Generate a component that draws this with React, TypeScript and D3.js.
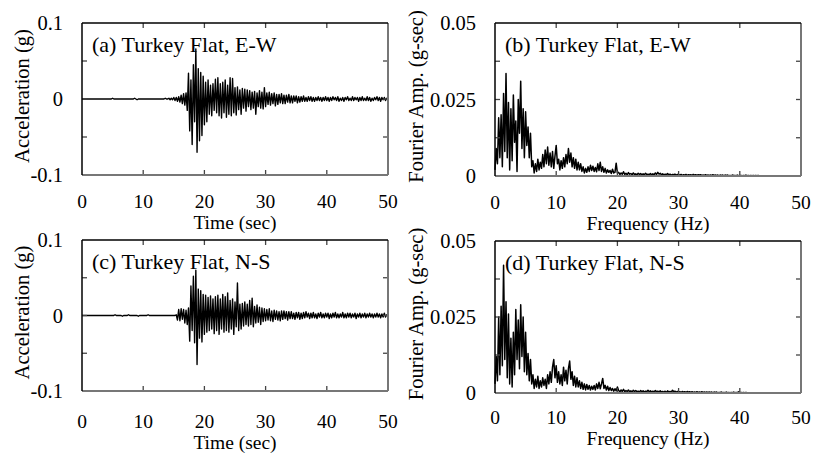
import React from 'react';
import * as d3 from 'd3';

const W = 813;
const H = 453;
const FONT = '"Liberation Serif", "Times New Roman", serif';

// acceleration time histories, milli-g, one value every 0.2 s from 0 to 50 s
const ACC_DT = 0.2;
const accEW = [
  0, 0, 0, 0, 0, 0, 0, 0, 0, 0,
  0, 0, 0, 0, 0, 0, 0, 0, 0, 0,
  0, 0, 0, 0, 0, 1, 0, 0, 0, 0,
  0, 0, 0, 0, 0, 0, 0, 0, 0, 0,
  0, 0, 0, 1, 0, -1, 0, 0, 0, 0,
  0, 0, 0, 0, 0, 0, 0, 0, 0, 0,
  0, 0, 0, 0, 0, 0, 0, 0, 1, 0,
  0, 1, -1, 1, -1, 2, -2, 2, -3, 3,
  -4, 5, -6, 7, -8, 8, -15, 34, -42, 25,
  -60, 45, -30, 66, -70, 40, -55, 35, -48, 30,
  -34, 22, -30, 25, -20, 18, -22, 20, -15, 26,
  -18, 28, -22, 20, -25, 22, -18, 25, -24, 18,
  -20, 28, -22, 27, -18, 15, -21, 16, -14, 12,
  -20, 14, -12, 13, -16, 12, -10, 11, -14, 9,
  -12, 10, -20, 8, -10, 11, -12, 9, -13, 15,
  -10, 8, -7, 9, -8, 7, -6, 8, -9, 6,
  -7, 6, -5, 7, -6, 5, -6, 5, -4, 6,
  -5, 4, -5, 4, -3, 4, -5, 3, -4, 3,
  -3, 4, -3, 2, -3, 3, -2, 3, -3, 2,
  -3, 2, -2, 3, -2, 2, -3, 2, -2, 3,
  -2, 2, -3, 2, -2, 3, -1, 2, -2, 3,
  -3, 1, -2, 2, -3, 2, -1, 3, -2, 1,
  -2, 3, -2, 2, -1, 2, -3, 2, -2, 3,
  -2, 1, -2, 3, -2, 2, -3, 1, -2, 2,
  -1, 3, -2, 2, -3, 2, -1, 2, -2, 1,
  0,
];
const accNS = [
  0, 0, 0, 0, 0, 0, 0, 0, 0, 0,
  0, 0, 0, 0, 0, 0, 0, 0, 0, 0,
  0, 0, 0, 0, 0, 0, 0, 1, 0, 0,
  0, 0, 0, -1, 0, 0, 0, 0, 1, 0,
  0, 0, 0, 0, 0, 0, -1, 0, 0, 0,
  0, 0, 0, 0, 1, 0, 0, 0, 0, 0,
  0, 0, 0, 0, 0, 0, 0, 0, 0, 0,
  0, 0, 0, 0, 0, 0, 0, 1, -6, 8,
  -7, 9, -5, 8, -10, 7, -12, 10, -34, 39,
  -20, 52, -36, 60, -65, 35, -30, 33, -35, 28,
  -25, 27, -22, 24, -20, 26, -18, 22, -24, 25,
  -20, 27, -25, 22, -18, 28, -22, 25, -20, 30,
  -22, 20, -18, 22, -25, 18, -15, 43, -20, 15,
  -18, 16, -14, 18, -12, 15, -14, 20, -12, 23,
  -15, 12, -10, 14, -9, 11, -12, 10, -8, 9,
  -7, 8, -6, 9, -7, 6, -8, 7, -5, 6,
  -6, 5, -7, 6, -5, 6, -4, 5, -6, 5,
  -4, 5, -4, 3, -5, 4, -3, 4, -5, 3,
  -4, 4, -3, 5, -2, 3, -4, 3, -3, 4,
  -3, 2, -4, 3, -2, 4, -3, 2, -3, 3,
  -2, 3, -4, 2, -3, 3, -2, 4, -3, 2,
  -3, 2, -2, 4, -3, 2, -3, 3, -2, 3,
  -3, 2, -2, 3, -4, 2, -2, 3, -3, 2,
  -2, 3, -3, 2, -2, 3, -2, 2, -3, 2,
  -2, 3, -2, 2, -3, 2, -2, 3, -2, 1,
  0,
];

// Fourier amplitude spectra, 1e-4 g-sec, one value every 0.2 Hz from 0 to 50 Hz
const FAS_DF = 0.2;
const fasEW = [
  20, 90, 40, 190, 60, 200, 30, 270, 80, 335,
  60, 240, 20, 220, 50, 265, 110, 180, 15, 250,
  140, 310, 90, 220, 60, 210, 100, 160, 60, 140,
  30, 50, 10, 40, 15, 55, 20, 45, 25, 70,
  30, 85, 40, 95, 35, 75, 30, 80, 25, 65,
  100, 40, 55, 20, 50, 25, 60, 30, 70, 40,
  90, 45, 75, 30, 60, 25, 55, 20, 45, 20,
  40, 15, 30, 10, 25, 12, 30, 15, 35, 18,
  32, 15, 28, 14, 40, 18, 45, 15, 30, 12,
  25, 10, 20, 12, 18, 8, 22, 10, 12, 42,
  10, 12, 5, 10, 6, 14, 5, 9, 4, 11,
  6, 8, 4, 10, 5, 7, 4, 9, 5, 8,
  3, 7, 4, 9, 5, 6, 4, 8, 3, 7,
  4, 10, 5, 12, 6, 9, 4, 7, 3, 6,
  4, 8, 3, 6, 3, 5, 4, 6, 3, 5,
  4, 3, 5, 2, 4, 3, 5, 2, 4, 3,
  4, 2, 5, 3, 4, 2, 4, 3, 4, 2,
  3, 2, 4, 2, 3, 2, 3, 2, 4, 2,
  3, 2, 3, 1, 3, 2, 3, 1, 3, 2,
  3, 1, 2, 1, 3, 2, 2, 1, 3, 1,
  2, 2, 1, 2, 1, 3, 1, 2, 1, 2,
  1, 2, 1, 2, 1, 2, 1, 1, 0, 1,
  0, 1, 0, 0, 0, 0, 0, 0, 0, 0,
  0, 0, 0, 0, 0, 0, 0, 0, 0, 0,
  0, 0, 0, 0, 0, 0, 0, 0, 0, 0,
  0,
];
const fasNS = [
  30, 120, 40, 250, 60, 285, 90, 420, 110, 300,
  50, 260, 30, 180, 20, 200, 60, 275, 110, 240,
  80, 290, 120, 250, 70, 200, 60, 130, 40, 110,
  30, 60, 15, 45, 20, 55, 15, 40, 20, 50,
  25, 45, 15, 60, 30, 70, 35, 85, 110, 50,
  90, 35, 70, 30, 60, 25, 85, 40, 75, 30,
  80, 105, 45, 70, 25, 55, 20, 50, 20, 40,
  15, 35, 12, 30, 10, 28, 12, 25, 10, 22,
  12, 25, 10, 30, 15, 35, 14, 30, 48, 15,
  25, 10, 22, 8, 18, 8, 15, 6, 14, 7,
  20, 8, 4, 10, 5, 12, 4, 8, 5, 10,
  4, 7, 3, 9, 5, 8, 4, 6, 3, 8,
  4, 7, 3, 6, 4, 9, 4, 7, 3, 6,
  3, 8, 4, 6, 3, 7, 3, 5, 3, 6,
  2, 7, 3, 5, 3, 9, 4, 6, 3, 5,
  3, 4, 2, 5, 3, 4, 2, 5, 3, 4,
  2, 4, 2, 3, 2, 4, 2, 3, 2, 4,
  2, 3, 2, 3, 2, 3, 2, 3, 1, 3,
  2, 3, 1, 2, 2, 3, 1, 2, 1, 3,
  1, 2, 1, 2, 1, 3, 1, 2, 1, 4,
  1, 2, 1, 2, 1, 2, 1, 1, 0, 1,
  0, 0, 0, 0, 0, 0, 0, 0, 0, 0,
  0, 0, 0, 0, 0, 0, 0, 0, 0, 0,
  0, 0, 0, 0, 0, 0, 0, 0, 0, 0,
  0, 0, 0, 0, 0, 0, 0, 0, 0, 0,
  0,
];

const xTicks = [0, 10, 20, 30, 40, 50];
const accTicks = [-0.1, 0, 0.1];
const accTickLabels = ['-0.1', '0', '0.1'];
const accInner = [-0.05, 0, 0.05];
const fasTicks = [0, 0.025, 0.05];
const fasTickLabels = ['0', '0.025', '0.05'];
const fasInner = [0.0125, 0.025, 0.0375];

const panels = [
  {
    key: 'a', box: { l: 82, r: 388, t: 23, b: 175 }, values: accEW, step: ACC_DT, unit: 0.001,
    yDomain: [-0.1, 0.1], yTicks: accTicks, yLabels: accTickLabels, yInner: accInner,
    title: '(a) Turkey Flat, E-W', xTitle: 'Time (sec)', yTitle: 'Acceleration (g)',
    xLabDy: 33, xTitleDy: 54, yTitleX: 22, lw: 1.4,
  },
  {
    key: 'b', box: { l: 495, r: 801, t: 23, b: 176 }, values: fasEW, step: FAS_DF, unit: 0.0001,
    yDomain: [0, 0.05], yTicks: fasTicks, yLabels: fasTickLabels, yInner: fasInner,
    title: '(b) Turkey Flat, E-W', xTitle: 'Frequency (Hz)', yTitle: 'Fourier Amp. (g-sec)',
    xLabDy: 33, xTitleDy: 54, yTitleX: 416, lw: 1.5,
  },
  {
    key: 'c', box: { l: 82, r: 388, t: 240, b: 391 }, values: accNS, step: ACC_DT, unit: 0.001,
    yDomain: [-0.1, 0.1], yTicks: accTicks, yLabels: accTickLabels, yInner: accInner,
    title: '(c) Turkey Flat, N-S', xTitle: 'Time (sec)', yTitle: 'Acceleration (g)',
    xLabDy: 37, xTitleDy: 58, yTitleX: 22, lw: 1.4,
  },
  {
    key: 'd', box: { l: 495, r: 801, t: 241, b: 393 }, values: fasNS, step: FAS_DF, unit: 0.0001,
    yDomain: [0, 0.05], yTicks: fasTicks, yLabels: fasTickLabels, yInner: fasInner,
    title: '(d) Turkey Flat, N-S', xTitle: 'Frequency (Hz)', yTitle: 'Fourier Amp. (g-sec)',
    xLabDy: 31, xTitleDy: 52, yTitleX: 416, lw: 1.5,
  },
];

function Panel({ p }: { p: any }) {
  const { box } = p;
  const x = d3.scaleLinear().domain([0, 50]).range([box.l, box.r]);
  const y = d3.scaleLinear().domain(p.yDomain).range([box.b, box.t]);
  const line = d3.line<number>()
    .x((_, i) => x(i * p.step))
    .y(d => y(d * p.unit));
  const tk = 5;
  const inner = xTicks.slice(1, -1);

  return (
    <g>
      <text x={box.l + 10} y={box.t + 29} fontSize={22} fontFamily={FONT}>{p.title}</text>
      <path d={line(p.values) || ''} fill="none" stroke="#000" strokeWidth={p.lw} strokeLinejoin="round" />

      {/* ticks */}
      {inner.map(v => (
        <g key={'x' + v} stroke="#444" strokeWidth={1.3}>
          <line x1={x(v)} x2={x(v)} y1={box.b} y2={box.b - tk} />
          <line x1={x(v)} x2={x(v)} y1={box.t} y2={box.t + tk} />
        </g>
      ))}
      {p.yInner.map((v: number) => (
        <g key={'y' + v} stroke="#444" strokeWidth={1.3}>
          <line x1={box.l} x2={box.l + tk} y1={y(v)} y2={y(v)} />
          <line x1={box.r} x2={box.r - tk} y1={y(v)} y2={y(v)} />
        </g>
      ))}

      {/* frame */}
      <line x1={box.l} x2={box.r} y1={box.b} y2={box.b} stroke="#777" strokeWidth={2} />
      <line x1={box.r} x2={box.r} y1={box.t} y2={box.b} stroke="#777" strokeWidth={2} />
      <line x1={box.l} x2={box.r} y1={box.t} y2={box.t} stroke="#000" strokeWidth={1.4} />
      <line x1={box.l} x2={box.l} y1={box.t} y2={box.b} stroke="#000" strokeWidth={1.5} />

      {/* tick labels */}
      {xTicks.map(v => (
        <text key={'xl' + v} x={x(v)} y={box.b + p.xLabDy} textAnchor="middle" fontSize={19.5} fontFamily={FONT}>{v}</text>
      ))}
      {p.yTicks.map((v: number, i: number) => (
        <text key={'yl' + v} x={box.l - 19} y={y(v)} dy="0.35em" textAnchor="end" fontSize={20.5} fontFamily={FONT}>{p.yLabels[i]}</text>
      ))}

      <text x={(box.l + box.r) / 2} y={box.b + p.xTitleDy} textAnchor="middle" fontSize={19.5} fontFamily={FONT}>{p.xTitle}</text>
      <text transform={`translate(${p.yTitleX},${(box.t + box.b) / 2 - 3}) rotate(-90)`} dy="0.35em" textAnchor="middle" fontSize={20.5} fontFamily={FONT}>{p.yTitle}</text>
    </g>
  );
}

export default function App() {
  return (
    <svg width={W} height={H} style={{ position: 'absolute', left: 0, top: 0, background: '#fff' }}>
      <rect width={W} height={H} fill="#fff" />
      {panels.map(p => <Panel key={p.key} p={p} />)}
    </svg>
  );
}
